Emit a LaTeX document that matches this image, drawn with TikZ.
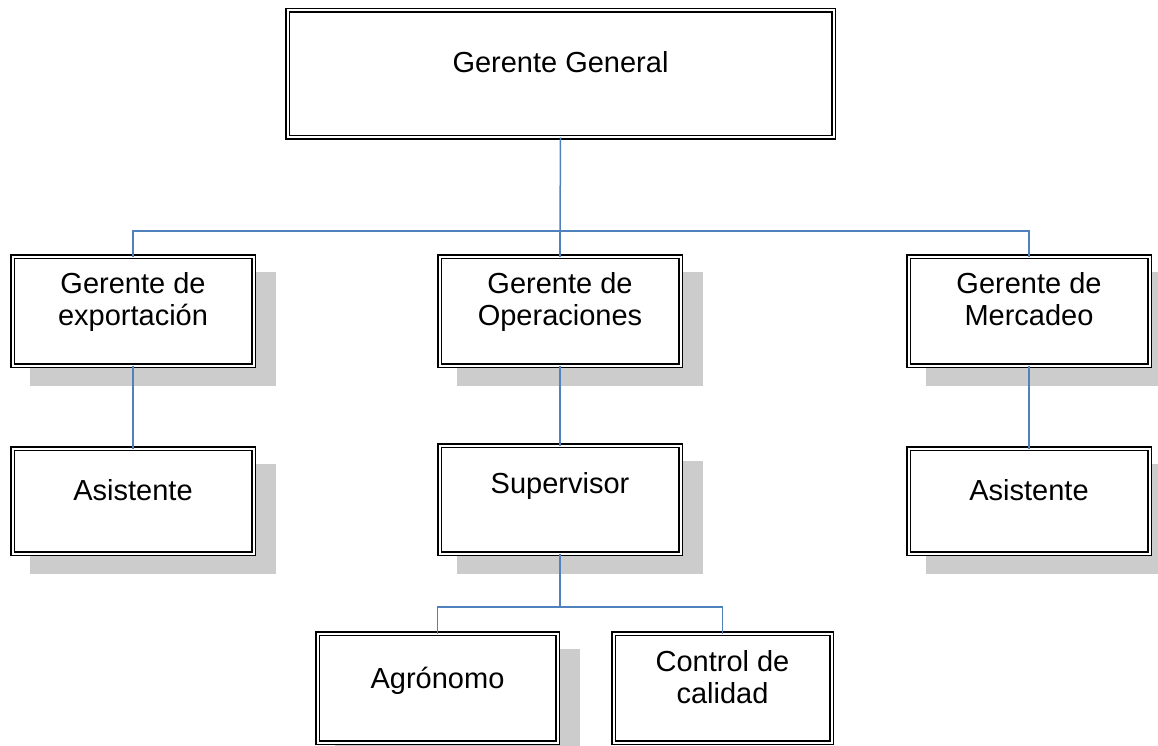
\documentclass[tikz,border=0pt]{standalone}
\usepackage{fontspec}
\setmainfont{Liberation Sans}
\definecolor{conncol}{HTML}{4F81BD}
\definecolor{shadowcol}{HTML}{CCCCCC}
\begin{document}
\begin{tikzpicture}[x=1pt,y=-1pt,
  box/.style={draw=black, line width=1.5pt, double=white, double distance=2pt, fill=white, inner sep=0pt, outer sep=0pt},
  conn/.style={draw=conncol, line width=1.5pt},
  lbl/.style={font=\fontsize{29}{32}\selectfont, align=center, inner sep=0pt}]
\useasboundingbox (0,0) rectangle (1158,746);
% shadows
\foreach \cx/\cy/\w/\h in {133/311/246/114, 560/311/246/114, 1029/311/246/114,
  133/501/246/110, 560/499.5/246/113, 1029/501/246/110, 437.5/688/245/114}
  \fill[shadowcol] (\cx-\w/2+20,\cy-\h/2+18) rectangle (\cx+\w/2+20,\cy+\h/2+18);
% boxes
\node[box, minimum width=546pt, minimum height=127pt] (gg) at (560.5,74) {};
\node[box, minimum width=241pt, minimum height=109pt] (ex) at (133,311) {};
\node[box, minimum width=241pt, minimum height=109pt] (op) at (560,311) {};
\node[box, minimum width=241pt, minimum height=109pt] (me) at (1029,311) {};
\node[box, minimum width=241pt, minimum height=105pt] (as1) at (133,501) {};
\node[box, minimum width=241pt, minimum height=108pt] (su) at (560,499.5) {};
\node[box, minimum width=241pt, minimum height=105pt] (as2) at (1029,501) {};
\node[box, minimum width=240pt, minimum height=109pt] (ag) at (437.5,688) {};
\node[box, minimum width=218pt, minimum height=109pt] (cc) at (722.5,688) {};
% labels
\node[lbl, anchor=base] (tgg) at (560.5,73) {Gerente General};
\node[lbl, anchor=base] (tex) at (133,325) {Gerente de\\exportación};
\node[lbl, anchor=base] (top) at (560,325) {Gerente de\\Operaciones};
\node[lbl, anchor=base] (tme) at (1029,325) {Gerente de\\Mercadeo};
\node[lbl, anchor=base] (tas1) at (133,500) {Asistente};
\node[lbl, anchor=base] (tsu) at (560,493) {Supervisor};
\node[lbl, anchor=base] (tas2) at (1029,500) {Asistente};
\node[lbl, anchor=base] (tag) at (437.5,688) {Agrónomo};
\node[lbl, anchor=base] (tcc) at (722.5,703) {Control de\\calidad};
% connectors
\coordinate (j1) at (560,231);
\coordinate (j2) at (560,607);
\draw[conn] (gg.south) -- (j1);
\draw[conn] (ex.north) |- (j1) -| (me.north);
\draw[conn] (j1) -- (op.north);
\draw[conn] (ex.south) -- (as1.north);
\draw[conn] (op.south) -- (su.north);
\draw[conn] (me.south) -- (as2.north);
\draw[conn] (su.south) -- (j2);
\draw[conn] (ag.north) |- (j2) -| (cc.north);
\end{tikzpicture}
\end{document}
